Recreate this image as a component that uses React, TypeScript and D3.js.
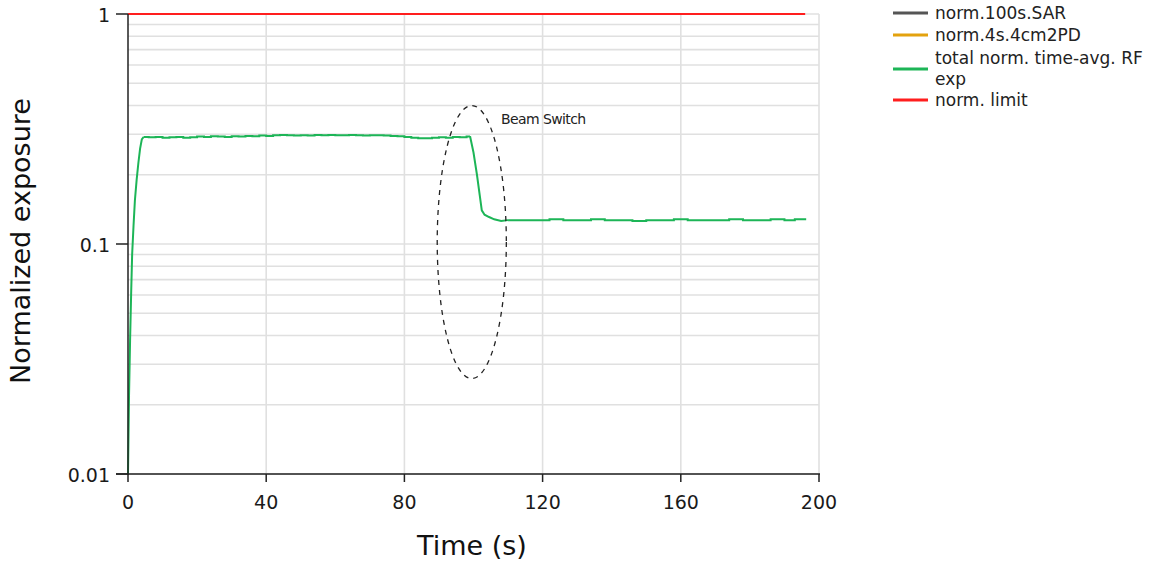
import React from "react";
import * as d3 from "d3";

const W = 1153;
const H = 565;

const xTicks = [0, 40, 80, 120, 160, 200];
const yTicks = [0.01, 0.1, 1];
const yTickLabels = ["0.01", "0.1", "1"];

const riseTimes = [0, 0.3, 0.6, 0.9, 1.2, 1.6, 2.0, 2.5, 3.0, 3.5, 4.0, 4.5];
const riseValues = [0.01, 0.022, 0.038, 0.06, 0.09, 0.12, 0.155, 0.19, 0.225, 0.26, 0.285, 0.292];

const plateau1Times = [6, 8, 10, 12, 14, 16, 18, 20, 22, 24, 26, 28, 30, 32, 34, 36, 38, 40, 42, 44, 46, 48, 50, 52, 54, 56, 58, 60, 62, 64, 66, 68, 70, 72, 74, 76, 78, 80, 82, 84, 86, 88, 90, 92, 94, 96, 98];
const plateau1Values = [0.291, 0.292, 0.29, 0.291, 0.292, 0.29, 0.291, 0.293, 0.292, 0.294, 0.293, 0.292, 0.294, 0.293, 0.295, 0.294, 0.296, 0.295, 0.297, 0.298, 0.297, 0.296, 0.297, 0.296, 0.298, 0.297, 0.298, 0.297, 0.297, 0.298, 0.297, 0.296, 0.297, 0.297, 0.296, 0.295, 0.294, 0.292, 0.29, 0.288, 0.288, 0.29, 0.291, 0.29, 0.292, 0.291, 0.293];

const dropTimes = [99, 100, 101, 101.8, 102.4, 103.2, 104.5, 106, 108, 110];
const dropValues = [0.294, 0.25, 0.2, 0.163, 0.14, 0.134, 0.131, 0.128, 0.126, 0.127];

const plateau2Times = [114, 118, 122, 126, 130, 134, 138, 142, 146, 150, 154, 158, 162, 166, 170, 174, 178, 182, 186, 190, 193, 196];
const plateau2Values = [0.127, 0.127, 0.128, 0.127, 0.127, 0.128, 0.127, 0.127, 0.126, 0.127, 0.127, 0.128, 0.127, 0.127, 0.127, 0.128, 0.127, 0.127, 0.128, 0.127, 0.128, 0.127];

const limitTimes = [0, 196];
const limitValues = [1, 1];

const legendLabels = [["norm.100s.SAR"], ["norm.4s.4cm2PD"], ["total norm. time-avg. RF", "exp"], ["norm. limit"]];
const legendColors = ["#555555", "#e3a20e", "#1db557", "#ff1e1e"];

const annotationText = "Beam Switch";
const ellipseCenter = { t: 99.5, v: 0.102 };
const ellipseHalfWidthSec = 10;
const ellipseTop = 0.4;

type P = [number, number];

export default function App() {
  const x = d3.scaleLinear().domain([0, 200]).range([128, 819]);
  const y = d3.scaleLog().domain([0.01, 1]).range([474, 14]);

  const zip = (ts: number[], vs: number[]) => ts.map((t, i) => [t, vs[i]] as P);
  const rise = zip(riseTimes, riseValues);
  const p1 = zip(plateau1Times, plateau1Values);
  const drop = zip(dropTimes, dropValues);
  const p2 = zip(plateau2Times, plateau2Values);
  const limitData = zip(limitTimes, limitValues);

  const stepLine = d3
    .line<P>()
    .x((d) => x(d[0]))
    .y((d) => y(d[1]))
    .curve(d3.curveStepAfter);
  const lineLin = d3
    .line<P>()
    .x((d) => x(d[0]))
    .y((d) => y(d[1]));

  const seg1 = [rise[rise.length - 1], ...p1, drop[0]];
  const seg2 = [drop[drop.length - 1], ...p2];

  const minorVals: number[] = [];
  [0.01, 0.1].forEach((b) => {
    for (let k = 1; k <= 9; k++) minorVals.push(b * k);
  });

  const font = "'DejaVu Sans', sans-serif";
  const ecx = x(ellipseCenter.t);
  const ecy = y(ellipseCenter.v);
  const erx = x(ellipseCenter.t + ellipseHalfWidthSec) - ecx;
  const ery = ecy - y(ellipseTop);

  const legendLineY = [13, 35, 69, 100];
  const legendTextY = [[19], [41], [64, 85], [106]];
  const green = "#1db557";

  return (
    <svg width={W} height={H} style={{ position: "absolute", left: 0, top: 0, background: "#fff" }}>
      <rect x={0} y={0} width={W} height={H} fill="#fff" />
      {/* gridlines */}
      {minorVals.map((v, i) => (
        <line key={"h" + i} x1={128} x2={819} y1={y(v)} y2={y(v)} stroke="#e0e0e0" strokeWidth={1.6} />
      ))}
      <line x1={128} x2={819} y1={y(1)} y2={y(1)} stroke="#e0e0e0" strokeWidth={1.6} />
      {xTicks.slice(1).map((t) => (
        <line key={"v" + t} x1={x(t)} x2={x(t)} y1={14} y2={474} stroke="#e0e0e0" strokeWidth={1.6} />
      ))}
      {/* series */}
      <path d={lineLin(limitData) || ""} fill="none" stroke="#ff1e1e" strokeWidth={2} />
      <path d={lineLin(rise) || ""} fill="none" stroke={green} strokeWidth={2} />
      <path d={stepLine(seg1) || ""} fill="none" stroke={green} strokeWidth={2} />
      <path d={lineLin(drop) || ""} fill="none" stroke={green} strokeWidth={2} />
      <path d={stepLine(seg2) || ""} fill="none" stroke={green} strokeWidth={2} />
      {/* axes */}
      <line x1={128} x2={128} y1={14} y2={475} stroke="#222" strokeWidth={1.5} />
      <line x1={116} x2={820} y1={474} y2={474} stroke="#222" strokeWidth={1.5} />
      {yTicks.map((v, i) => (
        <g key={"yt" + i}>
          <line x1={116} x2={128} y1={y(v)} y2={y(v)} stroke="#222" strokeWidth={1.5} />
          <text x={110} y={y(v) + 7.5} textAnchor="end" fontFamily={font} fontSize={19} fill="#1a1a1a">
            {yTickLabels[i]}
          </text>
        </g>
      ))}
      {xTicks.map((t) => (
        <g key={"xt" + t}>
          <line x1={x(t)} x2={x(t)} y1={474} y2={482} stroke="#222" strokeWidth={1.5} />
          <text x={x(t)} y={509} textAnchor="middle" fontFamily={font} fontSize={19} fill="#1a1a1a">
            {t}
          </text>
        </g>
      ))}
      <text x={472} y={555} textAnchor="middle" fontFamily={font} fontSize={27} fill="#111">
        Time (s)
      </text>
      <text
        transform={`translate(30,241) rotate(-90)`}
        textAnchor="middle"
        fontFamily={font}
        fontSize={27}
        fill="#111"
      >
        Normalized exposure
      </text>
      {/* annotation */}
      <ellipse cx={ecx} cy={ecy} rx={erx} ry={ery} fill="none" stroke="#222" strokeWidth={1.3} strokeDasharray="5,5" />
      <text x={501} y={124} fontFamily={font} fontSize={14} letterSpacing={-0.6} fill="#222">
        {annotationText}
      </text>
      {/* legend */}
      {legendLabels.map((lines, i) => (
        <g key={"lg" + i}>
          <line x1={893} x2={928} y1={legendLineY[i]} y2={legendLineY[i]} stroke={legendColors[i]} strokeWidth={3} />
          {lines.map((s, j) => (
            <text key={j} x={935} y={legendTextY[i][j]} fontFamily={font} fontSize={17} fill="#222">
              {s}
            </text>
          ))}
        </g>
      ))}
    </svg>
  );
}
